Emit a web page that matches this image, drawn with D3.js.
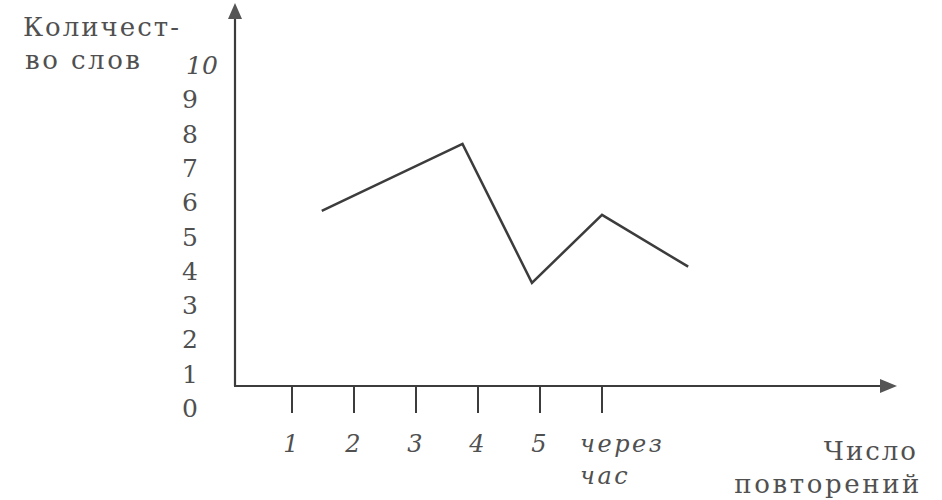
<!DOCTYPE html>
<html>
<head>
<meta charset="utf-8">
<script src="https://cdnjs.cloudflare.com/ajax/libs/d3/7.8.5/d3.min.js"></script>
<style>
  html, body { margin: 0; padding: 0; background: #fff; }
  svg text { font-family: "DejaVu Serif", "Liberation Serif", serif; fill: #505050; }
</style>
</head>
<body>
<svg id="chart" width="942" height="500"></svg>
<script>
// repetitions (x, in tick units) and words remembered (y)
var repX = [1.48, 3.75, 4.87, 6.0, 7.39];
var words = [5.75, 7.7, 3.65, 5.63, 4.12];
// x ticks and their labels
var xTicks = [1, 2, 3, 4, 5, 6];
var xTickLabels = ["1", "2", "3", "4", "5", "через|час"];
// y tick labels
var yTicks = [0, 1, 2, 3, 4, 5, 6, 7, 8, 9, 10];

var svg = d3.select("#chart");
var ink = "#3c3c3c";

var x = d3.scaleLinear().domain([1, 6]).range([292, 602]);
var y = d3.scaleLinear().domain([0, 10]).range([408, 65]);

var originX = 235, originY = 386;

// axes lines
svg.append("line")
    .attr("x1", originX).attr("y1", originY)
    .attr("x2", originX).attr("y2", 14)
    .attr("stroke", ink).attr("stroke-width", 2.2);
svg.append("line")
    .attr("x1", originX - 1).attr("y1", originY)
    .attr("x2", 884).attr("y2", originY)
    .attr("stroke", ink).attr("stroke-width", 2.2);

// arrow heads
svg.append("path")
    .attr("d", "M" + originX + ",3 L" + (originX - 7) + ",19 L" + (originX + 7) + ",19 Z")
    .attr("fill", "#555");
svg.append("path")
    .attr("d", "M897," + originY + " L880," + (originY - 7) + " L880," + (originY + 7) + " Z")
    .attr("fill", "#555");

// x ticks
svg.selectAll(".xtick")
    .data(xTicks)
  .enter().append("line")
    .attr("class", "xtick")
    .attr("x1", function(d) { return x(d); })
    .attr("x2", function(d) { return x(d); })
    .attr("y1", originY)
    .attr("y2", 413)
    .attr("stroke", ink).attr("stroke-width", 2);

// x tick labels (italic)
svg.selectAll(".xlab")
    .data(xTicks)
  .enter().append("text")
    .attr("class", "xlab")
    .style("font-style", "italic")
    .style("font-size", "24px")
    .each(function(d, i) {
        var parts = xTickLabels[i].split("|");
        var t = d3.select(this);
        if (parts.length === 1) {
            t.attr("x", x(d) - 1).attr("y", 452)
             .attr("text-anchor", "middle").text(parts[0]);
        } else {
            t.attr("text-anchor", "start").style("letter-spacing", "2.5px");
            parts.forEach(function(p, j) {
                t.append("tspan").attr("x", x(d) - 22).attr("y", 452 + j * 32).text(p);
            });
        }
    });

// y tick labels
svg.selectAll(".ylab")
    .data(yTicks)
  .enter().append("text")
    .attr("class", "ylab")
    .attr("x", function(d) { return d === 10 ? 186 : 190; })
    .attr("y", function(d) { return y(d) + 9; })
    .attr("text-anchor", function(d) { return d === 10 ? "start" : "middle"; })
    .style("font-style", function(d) { return d === 10 ? "italic" : "normal"; })
    .style("font-size", "25px")
    .text(function(d) { return d; });

// axis titles
svg.append("text").attr("x", 23).attr("y", 36)
    .style("font-size", "26px").style("letter-spacing", "2px")
    .text("Количест-");
svg.append("text").attr("x", 25).attr("y", 69)
    .style("font-size", "26px").style("letter-spacing", "2.5px")
    .text("во слов");
svg.append("text").attr("x", 918).attr("y", 460)
    .attr("text-anchor", "end")
    .style("font-size", "26px").style("letter-spacing", "2px")
    .text("Число");
svg.append("text").attr("x", 922).attr("y", 493)
    .attr("text-anchor", "end")
    .style("font-size", "26px").style("letter-spacing", "2.6px")
    .text("повторений");

// data line
var line = d3.line()
    .x(function(d, i) { return x(repX[i]); })
    .y(function(d) { return y(d); });

svg.append("path")
    .datum(words)
    .attr("d", line)
    .attr("fill", "none")
    .attr("stroke", ink)
    .attr("stroke-width", 2.5)
    .attr("stroke-linejoin", "miter");
</script>
</body>
</html>
